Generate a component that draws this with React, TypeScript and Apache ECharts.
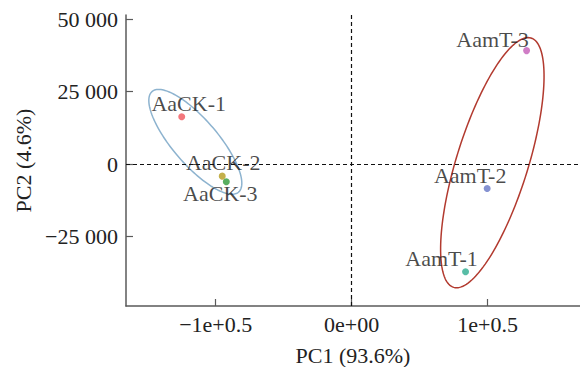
import React, { useEffect, useRef } from 'react';
import * as echarts from 'echarts';

// Sample scores
const sampleNames = ['AaCK-1', 'AaCK-2', 'AaCK-3', 'AamT-1', 'AamT-2', 'AamT-3'];
const pc1Values = [-125000, -95200, -92200, 83800, 99700, 128700];
const pc2Values = [16350, -4150, -6100, -37200, -8400, 39200];
const pointColors = ['#F0555C', '#B59C1E', '#2E9A3A', '#2EAD90', '#6777C6', '#C45CB8'];
const labelOffsets = [[7, -13], [1, -14], [-6, 12], [-24, -13], [-17, -13], [-34, -11]];

// Confidence ellipses: centre, conjugate semi-axis vectors (data units)
const ellipseGroups = ['AaCK', 'AamT'];
const ellipseCenterX = [-115000, 103500];
const ellipseCenterY = [7700, 500];
const ellipseUx = [-27000, 26300];
const ellipseUy = [18100, 43200];
const ellipseVx = [21000, 27500];
const ellipseVy = [0, 0];
const ellipseColors = ['#8DB3CF', '#B23A2F'];

// Axis ticks
const xTickValues = [-100000, 0, 100000];
const xTickLabels = ['\u22121e+0.5', '0e+00', '1e+0.5'];
const yTickValues = [-25000, 0, 25000, 50000];
const yTickLabels = ['\u221225 000', '0', '25 000', '50 000'];

const FONT = 'Liberation Serif';

export default function App() {
  const ref = useRef<HTMLDivElement>(null);
  useEffect(() => {
    const chart = echarts.init(ref.current!, null, { renderer: 'svg' });
    const axisCommon = {
      type: 'value',
      splitLine: { show: false },
      axisLine: { show: true, onZero: false, lineStyle: { color: '#5a5a5a', width: 1.5 } },
      axisTick: { show: true, inside: true, length: 7, lineStyle: { color: '#5a5a5a', width: 1.2 } },
      nameLocation: 'middle',
      nameTextStyle: { fontFamily: FONT, fontSize: 22, color: '#222' },
    };
    const option: any = {
      animation: false,
      backgroundColor: '#fff',
      grid: { left: 126, right: 0, top: 15, bottom: 61, containLabel: false, outerBoundsMode: 'none' },
      xAxis: {
        ...axisCommon,
        min: -166000,
        max: 168000,
        name: 'PC1 (93.6%)',
        nameGap: 38,
        axisTick: { ...axisCommon.axisTick, customValues: xTickValues },
        axisLabel: {
          customValues: xTickValues,
          fontFamily: FONT,
          fontSize: 22,
          color: '#222',
          margin: 7,
          formatter: (v: number) => {
            const i = xTickValues.indexOf(v);
            return i >= 0 ? xTickLabels[i] : '';
          },
        },
      },
      yAxis: {
        ...axisCommon,
        min: -49000,
        max: 51500,
        name: 'PC2 (4.6%)',
        nameGap: 92,
        axisTick: { ...axisCommon.axisTick, customValues: yTickValues },
        axisLabel: {
          customValues: yTickValues,
          fontFamily: FONT,
          fontSize: 22,
          color: '#222',
          margin: 8,
          formatter: (v: number) => {
            const i = yTickValues.indexOf(v);
            return i >= 0 ? yTickLabels[i] : '';
          },
        },
      },
      series: [
        {
          type: 'custom',
          silent: true,
          clip: false,
          z: 3,
          data: ellipseGroups.map((g, i) => ({
            name: g,
            value: [ellipseCenterX[i], ellipseCenterY[i], ellipseUx[i], ellipseUy[i], ellipseVx[i], ellipseVy[i], i],
          })),
          renderItem: (params: any, api: any) => {
            const cx = api.value(0), cy = api.value(1);
            const ux = api.value(2), uy = api.value(3);
            const vx = api.value(4), vy = api.value(5);
            const idx = api.value(6);
            const pts: number[][] = [];
            const n = 160;
            for (let k = 0; k < n; k++) {
              const t = (2 * Math.PI * k) / n;
              const c = Math.cos(t), s = Math.sin(t);
              pts.push(api.coord([cx + ux * c + vx * s, cy + uy * c + vy * s]));
            }
            return {
              type: 'polygon',
              shape: { points: pts },
              style: { fill: 'none', stroke: ellipseColors[idx], lineWidth: 1.5 },
              silent: true,
            };
          },
        },
        {
          type: 'scatter',
          z: 4,
          symbol: 'circle',
          symbolSize: 7,
          data: sampleNames.map((n, i) => ({
            name: n,
            value: [pc1Values[i], pc2Values[i]],
            itemStyle: { color: pointColors[i] },
            label: { offset: labelOffsets[i] },
          })),
          label: {
            show: true,
            position: 'inside',
            formatter: '{b}',
            fontFamily: FONT,
            fontSize: 22,
            color: '#1a1a1a',
          },
          markLine: {
            silent: true,
            symbol: 'none',
            label: { show: false },
            lineStyle: { color: '#111', type: [4, 3], width: 1.2 },
            data: [{ xAxis: 0 }, { yAxis: 0 }],
          },
        },
      ],
    };
    chart.setOption(option);
    return () => chart.dispose();
  }, []);
  return <div ref={ref} style={{ position: 'absolute', left: 0, top: 0, width: 580, height: 367 }} />;
}
